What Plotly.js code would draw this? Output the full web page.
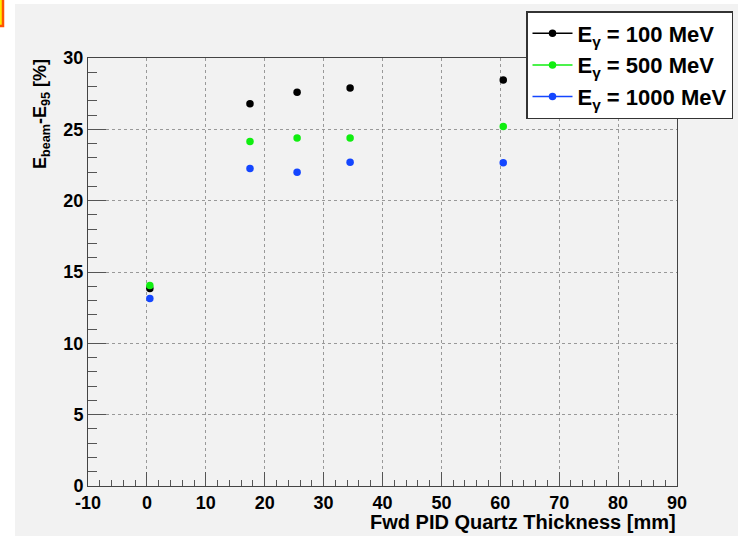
<!DOCTYPE html>
<html>
<head>
<meta charset="utf-8">
<script src="https://cdn.plot.ly/plotly-3.0.1.min.js"></script>
<style>html,body{margin:0;padding:0;background:#fff;}#chart{width:738px;height:536px;}</style>
</head>
<body>
<div id="chart"></div>
<script>
// ---- data ----
const thickness = [0.5, 17.5, 25.5, 34.5, 60.5];           // Fwd PID Quartz Thickness [mm]
const e100  = [13.85, 26.8, 27.6, 27.9, 28.45];            // E_gamma = 100 MeV
const e500  = [14.05, 24.15, 24.4, 24.4, 25.2];            // E_gamma = 500 MeV
const e1000 = [13.15, 22.25, 22.0, 22.7, 22.65];           // E_gamma = 1000 MeV
const seriesNames = ["E<sub>γ</sub> = 100 MeV", "E<sub>γ</sub> = 500 MeV", "E<sub>γ</sub> = 1000 MeV"];
const seriesColors = ["#000000", "#10ee10", "#1446ff"];
const xTickVals = [-10, 0, 10, 20, 30, 40, 50, 60, 70, 80, 90];
const xTickText = ["-10", "0", "10", "20", "30", "40", "50", "60", "70", "80", "90"];
const yTickVals = [0, 5, 10, 15, 20, 25, 30];
const yTickText = ["0", "5", "10", "15", "20", "25", "30"];
const xTitle = "Fwd PID Quartz Thickness [mm]";
const yTitle = "E<sub>beam</sub>-E<sub>95</sub> [%]";

// plot frame in pixels (for converting decoration positions to paper coords)
const L = 88, R = 677, T = 58, B = 486;
const W = 738, H = 536;
const px = v => (v - L) / (R - L);
const py = v => (B - v) / (B - T);

// interleave gaps so only markers show in the plot while legend shows line+marker
function gapped(arr) { const out = []; arr.forEach((v, i) => { out.push(v); if (i < arr.length - 1) out.push(null); }); return out; }

const allY = [e100, e500, e1000];
const traces = allY.map((ys, i) => ({
  x: gapped(thickness), y: gapped(ys),
  type: 'scatter', mode: 'lines+markers', connectgaps: false,
  name: seriesNames[i],
  line: {color: seriesColors[i], width: 1.5},
  marker: {color: seriesColors[i], size: 7.5, symbol: 'circle'},
  cliponaxis: true
}));

const font = {family: 'Liberation Sans, Arial, sans-serif', color: '#000', weight: 'bold'};

const layout = {
  width: W, height: H,
  margin: {l: L, r: W - R, t: T, b: H - B, pad: 0, autoexpand: false},
  paper_bgcolor: '#f2f2f2', plot_bgcolor: '#f2f2f2',
  font: font,
  showlegend: true,
  legend: {
    x: px(733), xanchor: 'right', y: py(11), yanchor: 'top',
    bgcolor: '#ffffff', bordercolor: '#333333', borderwidth: 1.5,
    font: {family: font.family, size: 22, color: '#000', weight: 'bold'},
    itemwidth: 40, tracegroupgap: 0
  },
  xaxis: {
    range: [-10, 90], tickmode: 'array', tickvals: xTickVals, ticktext: xTickText,
    ticks: 'inside', ticklen: 14, tickwidth: 1, tickcolor: '#555',
    showline: true, linecolor: '#444', linewidth: 1, mirror: true,
    showgrid: true, gridcolor: '#999', griddash: 'dot', gridwidth: 1,
    zeroline: false,
    tickfont: {family: font.family, size: 18, color: '#000', weight: 'bold'},
    minor: {dtick: 2, tick0: 0, ticks: 'inside', ticklen: 6, tickcolor: '#555', showgrid: false}
  },
  yaxis: {
    range: [0, 30], tickmode: 'array', tickvals: yTickVals, ticktext: yTickText,
    ticks: 'inside', ticklen: 18, tickwidth: 1, tickcolor: '#555',
    showline: true, linecolor: '#444', linewidth: 1, mirror: true,
    showgrid: true, gridcolor: '#999', griddash: 'dot', gridwidth: 1,
    zeroline: false,
    tickfont: {family: font.family, size: 18, color: '#000', weight: 'bold'},
    minor: {dtick: 1, tick0: 0, ticks: 'inside', ticklen: 9, tickcolor: '#555', showgrid: false}
  },
  annotations: [
    {text: xTitle, xref: 'paper', yref: 'paper', x: px(678), y: py(522), xanchor: 'right', yanchor: 'middle',
     showarrow: false, font: {family: font.family, size: 20, color: '#000', weight: 'bold'}},
    {text: yTitle, xref: 'paper', yref: 'paper', x: px(41), y: py(57), xanchor: 'center', yanchor: 'top',
     textangle: -90, showarrow: false, font: {family: font.family, size: 18, color: '#000', weight: 'bold'}}
  ],
  shapes: [
    // white margins around the grey canvas
    {type: 'rect', xref: 'paper', yref: 'paper', x0: px(0), x1: px(15), y0: py(H + 2), y1: py(-2),
     fillcolor: '#ffffff', line: {width: 0}, layer: 'below'},
    {type: 'rect', xref: 'paper', yref: 'paper', x0: px(0), x1: px(W + 2), y0: py(4), y1: py(-2),
     fillcolor: '#ffffff', line: {width: 0}, layer: 'below'},
    // fragment of an orange/yellow box at the top-left corner
    {type: 'rect', xref: 'paper', yref: 'paper', x0: px(-10), x1: px(3), y0: py(26), y1: py(-5),
     fillcolor: '#ffee00', line: {width: 2.5, color: '#ff5500'}, layer: 'above'}
  ]
};

Plotly.newPlot('chart', traces, layout, {displayModeBar: false, staticPlot: true});
</script>
</body>
</html>
